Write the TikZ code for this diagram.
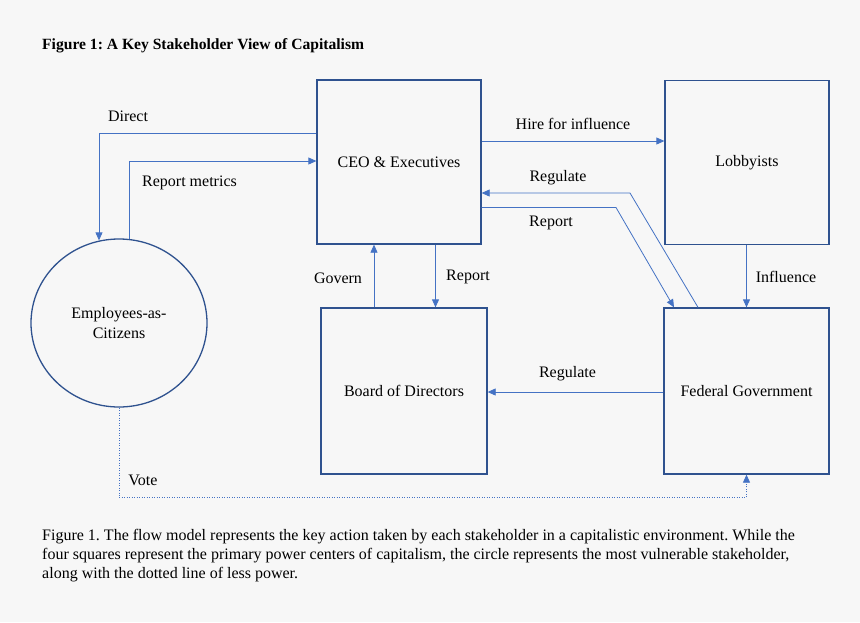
\documentclass[tikz,border=0pt]{standalone}
\usepackage{fontspec}
\setmainfont{Liberation Serif}
\usetikzlibrary{positioning,calc}
\usetikzlibrary{arrows.meta,shapes.geometric}
\definecolor{BoxBlue}{RGB}{47,82,143}
\definecolor{LinkBlue}{RGB}{68,114,196}
\definecolor{PageGray}{RGB}{247,247,247}
\frenchspacing
\tikzset{
  party/.style={rectangle,draw=BoxBlue,line width=1.3pt,minimum width=164pt,minimum height=164pt,
    inner sep=0pt,font=\fontsize{16}{18}\selectfont},
  crowd/.style={ellipse,draw=BoxBlue,line width=1.3pt,minimum width=176pt,minimum height=168pt,
    inner sep=0pt,align=center,font=\fontsize{16}{20}\selectfont},
  flow/.style={draw=LinkBlue,line width=0.8pt,-{Triangle[length=8pt,width=7pt]}},
}
\tikzset{lab/.style={inner sep=0pt,font=\fontsize{16}{18}\selectfont}, weakflow/.style={flow,dash pattern=on 1pt off 1.5pt}}

\begin{document}
\begin{tikzpicture}[x=1pt,y=-1pt]
\path[use as bounding box,fill=PageGray] (0,0) rectangle (860,622);
\node[anchor=west,inner sep=0pt,font=\bfseries\fontsize{15.6}{17}\selectfont] (title) at (42,46) {Figure 1: A Key Stakeholder View of Capitalism};
% the four power centers and the citizens
\node[party] (ceo) at (399,162) {CEO \& Executives};
\node[party] (lob) at (747,162.5) {Lobbyists};
\node[party,minimum width=166pt,minimum height=166pt] (board) at (404,391) {Board of Directors};
\node[party,minimum width=165pt,minimum height=166pt] (fed) at (746.5,391) {Federal Government};
\node[crowd] (emp) at (119,323) {Employees-as-\\Citizens};
% flows
\draw[flow] (ceo.west |- 0,133) -| ($(emp.north)+(-20,2)$);
\draw[flow] ($(emp.north)+(10,1)$) |- (ceo.west |- 0,161);
\draw[flow] (ceo.east |- 0,141) -- (lob.west |- 0,141);
\draw[flow] (fed.north -| 698,0) -- (630,193) -- (ceo.east |- 0,193);
\draw[flow] (ceo.east |- 0,207.5) -- (616,207.5) -- (fed.north -| 674,0);
\draw[flow] (lob.south -| 746.5,0) -- (fed.north -| 746.5,0);
\draw[flow] (board.north -| 374,0) -- (ceo.south -| 374,0);
\draw[flow] (ceo.south -| 435.5,0) -- (board.north -| 435.5,0);
\draw[flow] (fed.west |- 0,392) -- (board.east |- 0,392);
\draw[weakflow] (emp.south) |- (0,497.5 -| fed.south) -- (fed.south);
% flow labels
\node[lab] (lDirect) at (128,116) {Direct};
\node[lab] (lMetrics) at (189.5,183) {Report metrics};
\node[lab] (lHire) at (573,124) {Hire for influence};
\node[lab] (lRegUp) at (558,178) {Regulate};
\node[lab] (lRepRight) at (551,223) {Report};
\node[lab] (lGovern) at (338,278) {Govern};
\node[lab] (lRepDown) at (468,277) {Report};
\node[lab] (lInfluence) at (786,277) {Influence};
\node[lab] (lRegLow) at (567.5,374) {Regulate};
\node[lab] (lVote) at (143,480) {Vote};
% caption
\node[anchor=north west,inner sep=0pt,align=left,font=\fontsize{16}{19}\selectfont] (caption) at (42,529)
  {Figure 1. The flow model represents the key action taken by each stakeholder in a capitalistic environment. While the\\
   four squares represent the primary power centers of capitalism, the circle represents the most vulnerable stakeholder,\\
   along with the dotted line of less power.};
\end{tikzpicture}
\end{document}
